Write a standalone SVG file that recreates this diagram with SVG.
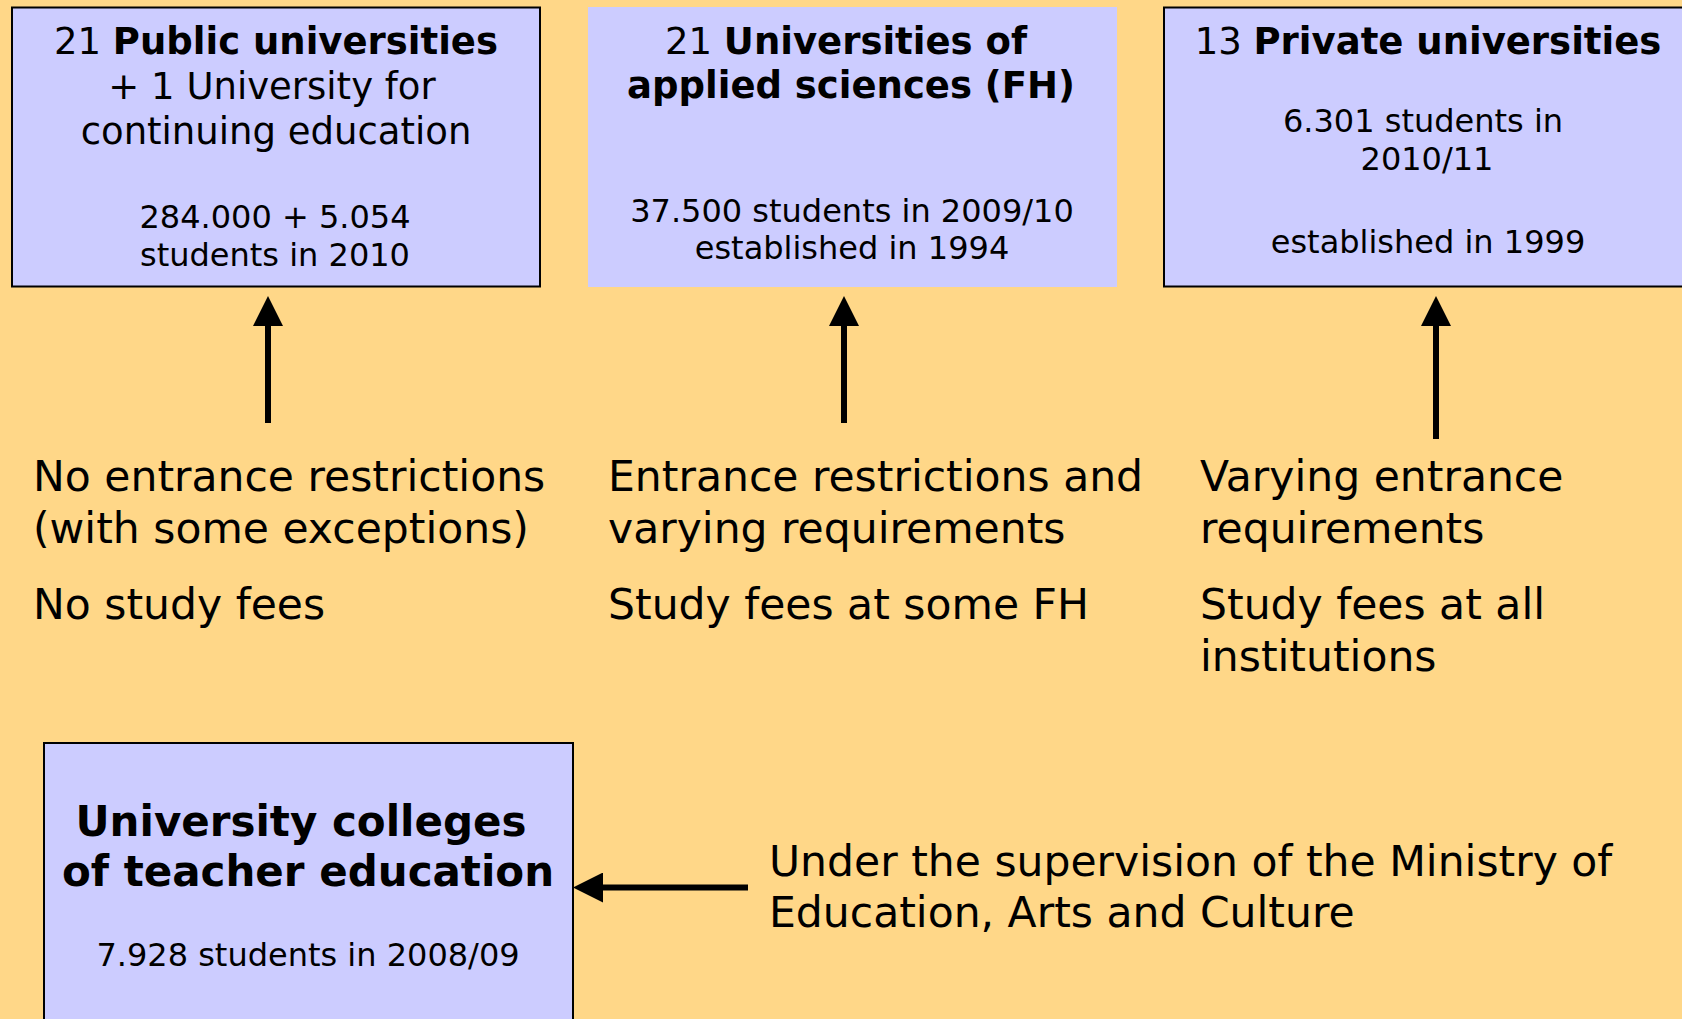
<svg xmlns="http://www.w3.org/2000/svg" width="1682" height="1019" viewBox="0 0 1682 1019">
  <style>
    .box { fill: #CCCCFF; }
    .bordered { stroke: #000; stroke-width: 2; }
    .t { font-family: "DejaVu Sans", Verdana, sans-serif; fill: #000; text-anchor: middle; }
    .title { font-size: 37px; }
    .title4 { font-size: 42px; font-weight: bold; }
    .b { font-weight: bold; }
    .small { font-size: 32px; }
    .note { font-family: "DejaVu Sans", Verdana, sans-serif; font-size: 42.5px; fill: #000; }
    .conn { stroke: #000; stroke-width: 6; fill: none; marker-end: url(#head); }
  </style>
  <defs>
    <marker id="head" viewBox="0 -15 30 30" refX="0" refY="0" markerWidth="30" markerHeight="30" markerUnits="userSpaceOnUse" orient="auto">
      <path d="M0,-15 L30,0 L0,15 Z" fill="#000"/>
    </marker>
  </defs>
  <rect x="0" y="0" width="1682" height="1019" fill="#FFD788"/>

  <g id="public-universities">
    <rect class="box bordered" x="12" y="7.5" width="528" height="279"/>
    <text class="t title" x="276" y="54">21 <tspan class="b">Public universities</tspan></text>
    <text class="t title" x="272" y="99">+ 1 University for</text>
    <text class="t title" x="276" y="144">continuing education</text>
    <text class="t small" x="275" y="228">284.000 + 5.054</text>
    <text class="t small" x="275" y="266">students in 2010</text>
  </g>

  <g id="applied-sciences">
    <rect class="box" x="588" y="7" width="529" height="280"/>
    <text class="t title" x="846" y="54">21 <tspan class="b">Universities of</tspan></text>
    <text class="t title b" x="851" y="98">applied sciences (FH)</text>
    <text class="t small" x="852" y="222">37.500 students in 2009/10</text>
    <text class="t small" x="852" y="259">established in 1994</text>
  </g>

  <g id="private-universities">
    <rect class="box bordered" x="1164" y="7.5" width="540" height="279"/>
    <text class="t title" x="1428" y="54">13 <tspan class="b">Private universities</tspan></text>
    <text class="t small" x="1423" y="132">6.301 students in</text>
    <text class="t small" x="1427" y="170">2010/11</text>
    <text class="t small" x="1428" y="253">established in 1999</text>
  </g>

  <g id="teacher-colleges">
    <rect class="box bordered" x="44" y="743" width="529" height="300"/>
    <text class="t title4" x="301" y="836">University colleges</text>
    <text class="t title4" x="308" y="886">of teacher education</text>
    <text class="t small" x="308" y="966">7.928 students in 2008/09</text>
  </g>

  <g id="note-public">
    <text class="note" x="33" y="491">No entrance restrictions</text>
    <text class="note" x="33" y="543">(with some exceptions)</text>
    <text class="note" x="33" y="619">No study fees</text>
  </g>

  <g id="note-applied">
    <text class="note" x="608" y="491">Entrance restrictions and</text>
    <text class="note" x="608" y="543">varying requirements</text>
    <text class="note" x="608" y="619">Study fees at some FH</text>
  </g>

  <g id="note-private">
    <text class="note" x="1200" y="491">Varying entrance</text>
    <text class="note" x="1200" y="543">requirements</text>
    <text class="note" x="1200" y="619">Study fees at all</text>
    <text class="note" x="1200" y="671">institutions</text>
  </g>

  <g id="note-ministry">
    <text class="note" x="769" y="876">Under the supervision of the Ministry of</text>
    <text class="note" x="769" y="927">Education, Arts and Culture</text>
  </g>

  <g id="connectors">
    <line class="conn" x1="268" y1="423" x2="268" y2="326"/>
    <line class="conn" x1="844" y1="423" x2="844" y2="326"/>
    <line class="conn" x1="1436" y1="439" x2="1436" y2="326"/>
    <line class="conn" x1="748" y1="887.5" x2="603" y2="887.5"/>
  </g>
</svg>
